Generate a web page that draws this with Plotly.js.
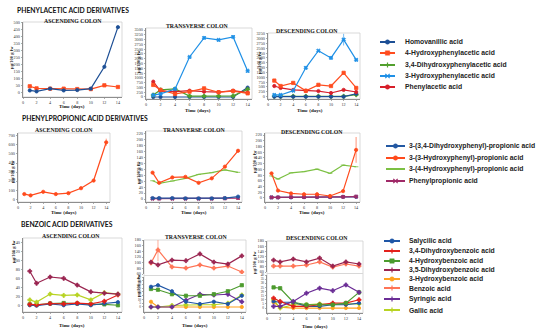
<!DOCTYPE html>
<html><head><meta charset="utf-8">
<script src="https://cdn.plot.ly/plotly-3.0.1.min.js"></script>
<style>html,body{margin:0;padding:0;background:#fff}#chart{width:550px;height:329px}</style>
</head><body><div id="chart"></div>
<script>
// ---------- DATA ----------
const days = [1, 2, 4, 6, 8, 10, 12, 14];
const dayTicks = [0, 2, 4, 6, 8, 10, 12, 14];
const colonNames = ["ASCENDING COLON", "TRANSVERSE COLON", "DESCENDING COLON"];
const sectionNames = ["PHENYLACETIC ACID DERIVATIVES", "PHENYLPROPIONIC ACID DERIVATIVES", "BENZOIC ACID DERIVATIVES"];
const xTitle = "Time (days)";
const yTitle = "µg/100 g fw";

// Phenylacetic acid derivatives
const acetNames = ["Homovanillic acid", "4-Hydroxyphenylacetic acid", "3,4-Dihydroxyphenylacetic acid", "3-Hydroxyphenylacetic acid", "Phenylacetic acid"];
const hva_asc   = [15, 8, 28, 15, 18, 28, 185, 470];
const hpa4_asc  = [45, 30, 28, 28, 25, 25, 52, 40];
const hva_tr    = [0, 0, 0, 0, 0, 0, 0, 490];
const hpa4_tr   = [630, 370, 160, 280, 450, 250, 310, 190];
const dhpa34_tr = [100, 370, 420, 50, 50, 50, 60, 400];
const hpa3_tr   = [100, 160, 420, 2090, 3090, 2980, 3140, 1360];
const pa_tr     = [800, 310, 280, 330, 280, 250, 330, 230];
const hva_de    = [0, 0, 0, 0, 0, 0, 0, 150];
const hpa4_de   = [830, 550, 710, 300, 610, 550, 1230, 450];
const dhpa34_de = [20, 20, 20, 20, 20, 20, 20, 100];
const hpa3_de   = [88, 88, 310, 1490, 2370, 2000, 2940, 1900];
const hpa3_de_err = [0, 0, 0, 0, 0, 0, 300, 0];
const pa_de     = [550, 450, 350, 310, 290, 190, 350, 240];

// Phenylpropionic acid derivatives
const propNames = ["3-(3,4-Dihydroxyphenyl)-propionic acid", "3-(3-Hydroxyphenyl)-propionic acid", "3-(4-Hydroxyphenyl)-propionic acid", "Phenylpropionic acid"];
const hpp3_asc     = [55, 40, 80, 55, 65, 120, 205, 630];
const hpp3_asc_err = [0, 0, 0, 0, 0, 0, 0, 40];
const dhpp34_tr = [3, 3, 3, 2, 2, 2, 3, 8];
const hpp3_tr   = [88, 54, 72, 74, 54, 69, 108, 161];
const hpp4_tr   = [61, 52, 60, 69, 82, 88, 97, 89];
const pp_tr     = [1, 1, 1, 1, 1, 1, 2, 3];
const dhpp34_de = [2, 2, 2, 3, 3, 3, 4, 4];
const hpp3_de   = [86, 26, 16, 13, 13, 7, 24, 168];
const hpp3_de_err = [0, 0, 0, 0, 0, 0, 0, 45];
const hpp4_de   = [77, 66, 88, 92, 101, 86, 115, 109];
const pp_de     = [2, 2, 3, 3, 4, 4, 4, 5];

// Benzoic acid derivatives
const benzNames = ["Salycilic acid", "3,4-Dihydroxybenzoic acid", "4-Hydroxybenzoic acid", "3,5-Dihydroxybenzoic acid", "3-Hydroxybenzoic acid", "Benzoic acid", "Syringic acid", "Gallic acid"];
const sal_asc   = [1, 0, 4, 1, 4, 1, 5, 8];
const dhb34_asc = [3, 2, 5, 4, 6, 4, 10, 24];
const hb4_asc   = [3, 2, 5, 6, 5, 3, 3, 1];
const dhb35_asc = [77, 50, 64, 61, 46, 31, 28, 26];
const gal_asc   = [13, 8, 26, 23, 24, 13, 29, 26];
const dhb35_tr  = [102, 92, 109, 107, 131, 102, 95, 124];
const benz_tr   = [99, 145, 85, 81, 92, 81, 88, 67];
const benz_tr_err = [0, 40, 0, 0, 0, 0, 0, 0];
const sal_tr    = [27, 29, 21, 7, 4, 7, 4, 15];
const hb4_tr    = [24, 23, 17, 15, 15, 17, 21, 29];
const syr_tr    = [0, 0, 0, 9, 17, 16, 17, 7];
const gal_tr    = [0, 0, 2, 3, 3, 3, 5, 16];
const hb3_tr    = [7, 0, 0, 0, 0, 0, 0, 0];
const dhb35_de  = [106, 99, 110, 99, 114, 83, 99, 91];
const benz_de   = [83, 83, 83, 87, 99, 79, 91, 83];
const sal_de    = [8, 7, 7, 2, 2, 4, 4, 6];
const dhb34_de  = [12, 8, 2, 2, 4, 6, 6, 10];
const hb4_de    = [25, 24, 7, 4, 4, 4, 6, 19];
const syr_de    = [2, 2, 8, 18, 24, 21, 28, 19];
const gal_de    = [10, 0, 4, 4, 5, 4, 5, 5];
const hb3_de    = [7, 1, 0, 0, 0, 0, 0, 0];

// ---------- STYLES ----------
const st = {
  hva:{c:'#1d4f95', s:'circle'}, hpa4:{c:'#ff4d1f', s:'square'}, dhpa34:{c:'#52a02e', s:'cross'},
  hpa3:{c:'#1f90e6', s:'x'}, pa:{c:'#d71f2a', s:'circle'},
  dhpp34:{c:'#2358a2', s:'circle'}, hpp3:{c:'#ff4a1c', s:'circle'}, hpp4:{c:'#7cc043', s:'line-ew'}, pp:{c:'#a02a68', s:'x'},
  sal:{c:'#1f56a6', s:'circle'}, dhb34:{c:'#e3211c', s:'cross'}, hb4:{c:'#4c9b2e', s:'square'}, dhb35:{c:'#9a2550', s:'cross'},
  hb3:{c:'#ffa21f', s:'circle'}, benz:{c:'#ff7556', s:'cross'}, syr:{c:'#6b2d96', s:'cross'}, gal:{c:'#b8d323', s:'cross'}
};

const W = 550, H = 329;
const fx = p => p / W, fy = p => 1 - p / H;
function ticksFrom(a, b, s){ const t=[]; for(let v=a; v<=b+1e-9; v+=s) t.push(Math.round(v*100)/100); return t; }

// panels: pixel boxes
const panels = [
  {x:[23,122],  y:[22,97],   yr:[-32,507],   tv:ticksFrom(0,500,50)},
  {x:[146,252], y:[28,99],   yr:[-105,3605], tv:ticksFrom(0,3500,250)},
  {x:[268,360], y:[33,99],   yr:[-120,3285], tv:ticksFrom(0,3250,250)},
  {x:[18,110],  y:[133,202], yr:[-33,733],   tv:ticksFrom(0,700,100)},
  {x:[146,242], y:[131,202], yr:[-10,227],   tv:ticksFrom(0,220,20)},
  {x:[265,360], y:[133,202], yr:[-14,227],   tv:ticksFrom(0,220,20)},
  {x:[23,122],  y:[238,312], yr:[-14,151],   tv:ticksFrom(0,140,20)},
  {x:[144,246], y:[240,274], yr:[60,180],    tv:ticksFrom(60,180,20), hideX:true},
  {x:[144,246], y:[277,312], yr:[-6.7,40],   tv:ticksFrom(0,40,5)},
  {x:[267,363], y:[241,272], yr:[60,180],    tv:ticksFrom(60,180,20), hideX:true},
  {x:[267,363], y:[275,313], yr:[-6,40],     tv:ticksFrom(0,40,5)}
];

const layout = {
  width: W, height: H, margin:{l:0,r:0,t:0,b:0}, showlegend:false,
  paper_bgcolor:'#ffffff', plot_bgcolor:'rgba(0,0,0,0)',
  annotations: [], shapes: []
};
const tickFont = {family:'Liberation Serif', size:4.2, color:'#333'};
panels.forEach((p, i) => {
  const n = i === 0 ? '' : (i + 1);
  layout['xaxis' + n] = {
    domain:[fx(p.x[0]), fx(p.x[1])], range:[0, 14.6], anchor:'y' + n,
    tickvals: dayTicks, ticks:'outside', ticklen:1.5, tickwidth:0.6, tickcolor:'#777',
    showline:true, linecolor:'#777', linewidth:0.8, showgrid:false, zeroline:false,
    tickfont: tickFont, visible: !p.hideX, fixedrange:true
  };
  layout['yaxis' + n] = {
    domain:[fy(p.y[1]), fy(p.y[0])], range:p.yr, anchor:'x' + n,
    tickvals: p.tv, ticks:'outside', ticklen:1.5, tickwidth:0.6, tickcolor:'#777',
    showline:true, linecolor:'#777', linewidth:0.8, showgrid:false, zeroline:false,
    tickfont: (p.tv.length > 8 && (p.y[1]-p.y[0]) < 40) ? {family:'Liberation Serif', size:3.4, color:'#333'} : tickFont,
    fixedrange:true
  };
});

// frames
const frames = [
  [23,122,22,97],[146,252,28,99],[268,360,33,99],
  [18,110,133,202],[146,242,131,202],[265,360,133,202],
  [23,122,238,312],[144,246,240,312],[267,363,241,313]
];
frames.forEach(f => layout.shapes.push({type:'rect', xref:'paper', yref:'paper',
  x0:fx(f[0]), x1:fx(f[1]), y0:fy(f[3]), y1:fy(f[2]), line:{color:'#cfcfcf', width:0.8}, layer:'below'}));
// axis breaks
[[144,246,275.5],[267,363,273.5]].forEach(b => layout.shapes.push({type:'line', xref:'paper', yref:'paper',
  x0:fx(b[0]), x1:fx(b[1]), y0:fy(b[2]), y1:fy(b[2]), line:{color:'#d8d8d8', width:1}}));

// ---------- TRACES ----------
const traces = [];
function add(y, key, panelIdx, err){
  const n = panelIdx === 0 ? '' : (panelIdx + 1);
  const s = st[key];
  const t = {x: days, y: y, xaxis:'x' + n, yaxis:'y' + n, type:'scatter', mode:'lines+markers',
    line:{color:s.c, width:1.2}, marker:{color:s.c, symbol:s.s, size:3.3, line:{color:s.c, width:0.8}}, hoverinfo:'skip'};
  if (err) t.error_y = {type:'data', array:err, visible:true, color:s.c, thickness:0.6, width:0};
  traces.push(t);
}
// row 1
add(hpa4_asc, 'hpa4', 0); add(hva_asc, 'hva', 0);
add(hva_tr, 'hva', 1); add(dhpa34_tr, 'dhpa34', 1); add(pa_tr, 'pa', 1); add(hpa4_tr, 'hpa4', 1); add(hpa3_tr, 'hpa3', 1);
add(dhpa34_de, 'dhpa34', 2); add(hva_de, 'hva', 2); add(pa_de, 'pa', 2); add(hpa4_de, 'hpa4', 2); add(hpa3_de, 'hpa3', 2, hpa3_de_err);
// row 2
add(hpp3_asc, 'hpp3', 3, hpp3_asc_err);
add(pp_tr, 'pp', 4); add(dhpp34_tr, 'dhpp34', 4); add(hpp4_tr, 'hpp4', 4); add(hpp3_tr, 'hpp3', 4);
add(dhpp34_de, 'dhpp34', 5); add(pp_de, 'pp', 5); add(hpp4_de, 'hpp4', 5); add(hpp3_de, 'hpp3', 5, hpp3_de_err);
// row 3
add(hb4_asc, 'hb4', 6); add(sal_asc, 'sal', 6); add(dhb34_asc, 'dhb34', 6); add(gal_asc, 'gal', 6); add(dhb35_asc, 'dhb35', 6);
add(benz_tr, 'benz', 7, benz_tr_err); add(dhb35_tr, 'dhb35', 7);
add(hb3_tr, 'hb3', 8); add(gal_tr, 'gal', 8); add(syr_tr, 'syr', 8); add(hb4_tr, 'hb4', 8); add(sal_tr, 'sal', 8);
add(benz_de, 'benz', 9); add(dhb35_de, 'dhb35', 9);
add(hb3_de, 'hb3', 10); add(gal_de, 'gal', 10); add(sal_de, 'sal', 10); add(dhb34_de, 'dhb34', 10); add(hb4_de, 'hb4', 10); add(syr_de, 'syr', 10);

// ---------- TEXT ----------
function ann(text, x, y, o){
  layout.annotations.push(Object.assign({text, x:fx(x), y:fy(y), xref:'paper', yref:'paper', showarrow:false,
    xanchor:'center', yanchor:'middle', font:{family:'Liberation Serif', size:5, color:'#111'}}, o || {}));
}
const secFont = {family:'Lato', size:6.8, color:'#111', weight:700};
ann('<b>' + sectionNames[0] + '</b>', 15, 10, {xanchor:'left', font:secFont});
ann('<b>' + sectionNames[1] + '</b>', 20, 118, {xanchor:'left', font:secFont});
ann('<b>' + sectionNames[2] + '</b>', 19, 224, {xanchor:'left', font:secFont});

const titleFont = {family:'Liberation Serif', size:5.8, color:'#111'};
[[73,21],[197,26],[307,31],[64,130],[194,130],[312,132],[71,236],[196,237],[317,238]].forEach((p, i) =>
  ann('<b>' + colonNames[i % 3] + '</b>', p[0], p[1], {font:titleFont}));

const axFont = {family:'Liberation Serif', size:5, color:'#111'};
[[72,104.5],[198,108],[310,108],[64,209.5],[194,210],[312,210],[72,323],[195,323],[315,323.5]].forEach(p =>
  ann('<b>' + xTitle + '</b>', p[0], p[1], {font:axFont, yanchor:'top', y:fy(p[1]-2)}));
[[12,58],[139,62],[260,63],[12,172],[138,173],[254,162],[13,252],[138,286],[254,263]].forEach(p =>
  ann('<b>' + yTitle + '</b>', p[0], p[1], {font:{family:'Liberation Serif', size:4.6, color:'#111'}, textangle:-90}));

// ---------- LEGENDS ----------
function legendItem(name, key, x1, x2, tx, y){
  const s = st[key];
  layout.shapes.push({type:'line', xref:'paper', yref:'paper', x0:fx(x1), x1:fx(x2), y0:fy(y), y1:fy(y), line:{color:s.c, width:2}});
  const cx = (x1 + x2) / 2, r = 2.2;
  if (s.s === 'circle') layout.shapes.push({type:'circle', xref:'paper', yref:'paper', x0:fx(cx-r), x1:fx(cx+r), y0:fy(y+r), y1:fy(y-r), fillcolor:s.c, line:{color:s.c, width:0.5}});
  else if (s.s === 'square') layout.shapes.push({type:'rect', xref:'paper', yref:'paper', x0:fx(cx-r), x1:fx(cx+r), y0:fy(y+r), y1:fy(y-r), fillcolor:s.c, line:{color:s.c, width:0.5}});
  else if (s.s === 'cross') layout.shapes.push({type:'line', xref:'paper', yref:'paper', x0:fx(cx), x1:fx(cx), y0:fy(y+2.5), y1:fy(y-2.5), line:{color:s.c, width:1.2}});
  else if (s.s === 'x') {
    layout.shapes.push({type:'line', xref:'paper', yref:'paper', x0:fx(cx-2.2), x1:fx(cx+2.2), y0:fy(y+2.2), y1:fy(y-2.2), line:{color:s.c, width:1.2}});
    layout.shapes.push({type:'line', xref:'paper', yref:'paper', x0:fx(cx-2.2), x1:fx(cx+2.2), y0:fy(y-2.2), y1:fy(y+2.2), line:{color:s.c, width:1.2}});
  }
  ann('<b>' + name + '</b>', tx, y, {xanchor:'left', font:{family:'Liberation Sans', size:6.8, color:'#222'}});
}
const acetKeys = ['hva','hpa4','dhpa34','hpa3','pa'];
[42,53,65,76,87].forEach((y, i) => legendItem(acetNames[i], acetKeys[i], 380, 395, 403, y));
const propKeys = ['dhpp34','hpp3','hpp4','pp'];
[146,158,169,181].forEach((y, i) => legendItem(propNames[i], propKeys[i], 386, 405, 407, y));
const benzKeys = ['sal','dhb34','hb4','dhb35','hb3','benz','syr','gal'];
[241,251,261,270,279,288,299,310].forEach((y, i) => legendItem(benzNames[i], benzKeys[i], 384, 400, 407, y));

Plotly.newPlot('chart', traces, layout, {staticPlot:true, displayModeBar:false});
</script>
</body></html>
